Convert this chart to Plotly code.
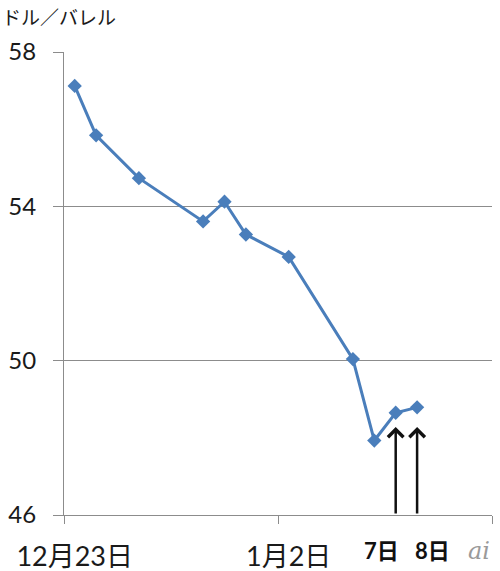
import plotly.graph_objects as go

dates = ["2014-12-23", "2014-12-24", "2014-12-26", "2014-12-29", "2014-12-30",
         "2014-12-31", "2015-01-02", "2015-01-05", "2015-01-06", "2015-01-07", "2015-01-08"]
prices = [57.12, 55.84, 54.73, 53.61, 54.12, 53.27, 52.69, 50.04, 47.93, 48.65, 48.79]

tick_vals = ["2014-12-23", "2015-01-02"]
tick_text = ["12月23日", "1月2日"]
bold_labels = [("2015-01-07", "7日", -14), ("2015-01-08", "8日", 15)]
arrow_dates = ["2015-01-07", "2015-01-08"]
y_ticks = [46, 50, 54, 58]

FONT = "Lato, 'Noto Sans CJK JP', sans-serif"
GRAY = "#8c8c8c"
BLUE = "#4a7ebb"

fig = go.Figure()
fig.add_trace(go.Scatter(
    x=dates, y=prices, mode="lines+markers",
    line=dict(color=BLUE, width=3),
    marker=dict(symbol="diamond", size=11, color=BLUE),
    hoverinfo="skip", showlegend=False,
))

fig.update_layout(
    width=500, height=571,
    margin=dict(l=64, r=8, t=52, b=56),
    paper_bgcolor="white", plot_bgcolor="white",
    font=dict(family=FONT, color="#222222"),
    xaxis=dict(
        type="date", automargin=False,
        range=["2014-12-22 12:00", "2015-01-11 12:00"],
        tickmode="array", tickvals=tick_vals, ticktext=tick_text,
        ticks="", showgrid=False, zeroline=False,
        showline=True, linecolor=GRAY, linewidth=1,
        tickfont=dict(size=27, color="#1a1a1a"),
        ticklabelstandoff=18,
        minor=dict(ticks="outside", ticklen=8, tickcolor=GRAY, tickwidth=1,
                   tick0="2014-12-22 12:00", dtick=864000000, showgrid=False),
    ),
    yaxis=dict(
        automargin=False,
        range=[46, 58], tickmode="array", tickvals=y_ticks,
        ticks="outside", ticklen=10, tickcolor=GRAY,
        showgrid=True, gridcolor=GRAY, gridwidth=1,
        showline=True, linecolor=GRAY, linewidth=1, zeroline=False,
        tickfont=dict(size=24, color="#1a1a1a"),
        ticklabelstandoff=12,
    ),
)

fig.add_annotation(text="ドル／バレル", xref="paper", yref="paper", x=0, y=1,
                   xanchor="left", yanchor="middle", xshift=-64, yshift=35,
                   showarrow=False, font=dict(size=19, color="#1a1a1a"))

for d, t, sh in bold_labels:
    fig.add_annotation(text=f"<b>{t}</b>", x=d, xref="x", y=0, yref="paper",
                       yanchor="middle", yshift=-35, xshift=sh, showarrow=False,
                       font=dict(size=22, color="#111111"))

for d in arrow_dates:
    fig.add_annotation(x=d, y=48.28, xref="x", yref="y",
                       ax=d, ay=46, axref="x", ayref="y",
                       showarrow=True, arrowhead=4, arrowsize=1.2, arrowwidth=2.5,
                       arrowcolor="#111111", text="")

fig.add_annotation(text="<i>ai</i>", xref="paper", yref="paper", x=1, y=0,
                   xanchor="right", yanchor="middle", xshift=0, yshift=-36,
                   showarrow=False,
                   font=dict(size=24, color="#9a9a9a", family="'DejaVu Serif', serif"))

fig.write_html("out.html", config={"displayModeBar": False},
               post_script="document.body.style.margin='0';")
